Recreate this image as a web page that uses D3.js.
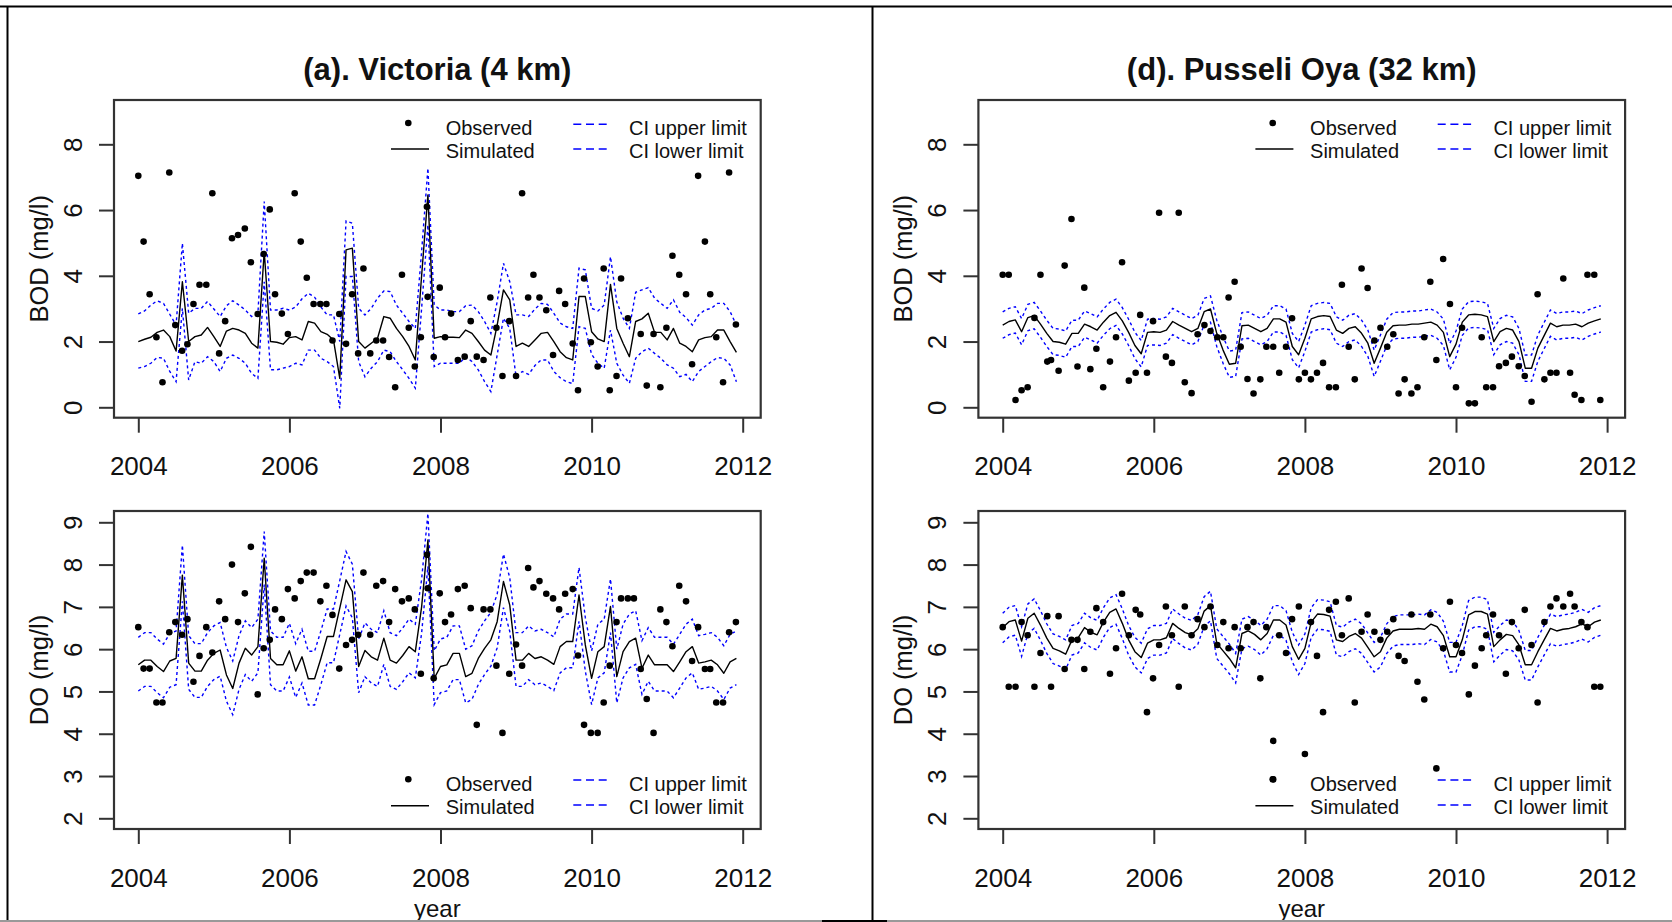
<!DOCTYPE html>
<html><head><meta charset="utf-8">
<script src="https://cdn.jsdelivr.net/npm/d3@7"></script>
<style>
html,body{margin:0;padding:0;background:#fff;}
svg{display:block;font-family:"Liberation Sans",Arial,sans-serif;}
</style></head><body>
<svg id="chart" width="1672" height="922"></svg>
<script>
// ---------- tick labels ----------
const xTickLabels = [2004, 2006, 2008, 2010, 2012];
const bodTicks = [0, 2, 4, 6, 8];
const doTicks = [2, 3, 4, 5, 6, 7, 8, 9];
const simStartYear = 2004; // simulated series are monthly from Jan 2004 (96 months)

// ---------- Victoria (4 km): observation dates ----------
const vicDates = [2004.00,2004.07,2004.15,2004.24,2004.32,2004.41,2004.49,2004.58,2004.65,2004.73,2004.81,2004.90,2004.98,
2005.07,2005.15,2005.24,2005.32,2005.41,2005.49,2005.58,2005.66,2005.74,2005.81,2005.90,2005.98,
2006.07,2006.15,2006.23,2006.32,2006.41,2006.49,2006.57,2006.66,2006.75,2006.83,2006.91,2006.98,
2007.07,2007.15,2007.24,2007.32,2007.40,2007.49,2007.58,2007.66,2007.74,2007.82,2007.83,2007.91,2007.99,
2008.06,2008.14,2008.23,2008.32,2008.40,2008.48,2008.57,2008.66,2008.74,2008.82,2008.91,
2009.00,2009.08,2009.16,2009.23,2009.31,2009.40,2009.49,2009.57,2009.65,2009.75,2009.82,2009.90,2009.99,
2010.08,2010.16,2010.24,2010.33,2010.39,2010.48,2010.56,2010.65,2010.73,2010.82,2010.91,2010.99,
2011.07,2011.16,2011.25,2011.33,2011.41,2011.50,2011.57,2011.65,2011.74,2011.82,2011.91];

const vicBODObs = [7.04,5.04,3.44,2.13,0.76,7.14,2.50,1.72,1.92,3.14,3.73,3.73,6.51,
1.64,2.62,5.14,5.24,5.44,4.41,2.84,4.66,6.02,3.44,2.85,2.23,
6.51,5.04,3.94,3.14,3.14,3.14,2.03,2.84,1.93,3.44,1.64,4.22,
1.64,2.03,2.03,1.53,0.61,4.03,2.42,1.24,2.13,6.10,3.36,1.53,3.64,
2.13,2.85,1.44,1.54,2.62,1.54,1.44,3.34,2.42,0.95,2.62,
0.95,6.51,3.34,4.03,3.34,2.95,1.59,3.54,3.14,1.94,0.52,3.92,1.98,
1.24,4.22,0.52,0.95,3.92,2.71,null,2.23,0.66,2.23,0.61,2.42,
4.61,4.03,3.44,1.31,7.04,5.04,3.44,2.13,0.76,7.14,2.52];

const vicDOObs = [6.52,5.54,5.54,4.74,4.74,6.40,6.64,6.34,6.71,5.23,5.84,6.52,5.92,
7.13,6.71,8.00,6.64,7.32,8.42,4.93,6.02,6.22,6.94,6.71,7.42,
7.20,7.61,7.81,7.81,7.13,7.50,6.81,5.54,6.10,6.22,6.34,7.81,
6.34,7.50,7.61,6.64,7.42,7.13,7.20,6.94,5.42,8.23,7.44,5.31,7.32,
6.64,6.82,7.42,7.50,6.97,4.21,6.94,6.94,5.61,4.02,5.42,
6.11,5.61,7.92,7.46,7.61,7.31,7.20,6.94,7.31,7.42,5.85,4.21,4.02,
4.02,4.74,5.61,6.64,7.20,7.20,7.20,5.53,4.82,4.02,6.94,6.64,
6.07,7.50,7.13,5.72,6.52,5.53,5.53,4.74,4.74,6.40,6.64];

// ---------- Victoria: simulated + CI (monthly) ----------
const vicBODSim = [2.00,2.07,2.13,2.28,2.35,2.15,1.71,3.82,2.00,2.15,2.20,2.43,2.15,1.85,2.32,2.40,2.35,2.25,1.95,1.80,
4.74,2.00,1.98,1.92,2.12,2.15,2.05,2.61,2.56,2.30,2.22,2.05,0.88,4.79,4.84,2.00,1.80,1.95,2.10,2.76,
2.71,2.40,2.15,1.85,1.44,4.00,6.46,2.10,
2.15,2.13,2.13,2.12,2.35,2.25,2.00,1.74,1.59,2.50,3.57,3.27,1.85,1.95,1.85,2.05,2.25,2.28,2.00,1.69,
1.51,1.44,3.37,3.37,2.30,2.08,2.00,3.74,2.40,1.95,1.54,2.61,2.69,2.86,2.28,2.28,2.05,2.40,1.95,1.85,
1.69,2.05,2.12,2.15,2.35,2.35,2.00,1.67];
const vicBODUpper = [2.84,2.93,3.11,3.24,3.16,2.83,2.50,4.99,2.86,3.01,3.01,3.22,2.99,2.76,3.09,3.24,3.11,2.96,2.76,2.86,
6.26,2.96,2.96,3.01,2.96,3.05,3.30,3.47,3.35,3.05,2.81,2.81,2.00,5.67,5.60,3.01,2.81,3.01,3.32,3.54,
3.52,3.11,2.86,2.61,2.40,4.74,7.27,3.11,
2.96,2.96,2.91,2.91,3.09,3.11,2.91,2.61,2.25,3.21,4.38,3.82,2.81,2.81,2.76,2.99,3.16,3.13,2.86,2.56,
2.45,2.40,4.23,4.18,3.01,2.93,3.11,4.58,3.21,2.71,2.40,3.50,3.57,3.64,3.32,3.16,3.01,3.27,2.89,2.73,
2.50,2.81,2.96,3.01,3.16,3.16,2.91,2.50];
const vicBODLower = [1.19,1.24,1.34,1.52,1.49,1.09,0.78,3.01,0.83,1.39,1.34,1.54,1.39,1.09,1.49,1.59,1.49,1.34,1.03,0.88,
3.82,1.14,1.14,1.19,1.24,1.34,1.29,1.74,1.74,1.49,1.39,1.24,-0.03,3.98,3.98,1.39,0.93,1.19,1.39,1.74,
1.69,1.39,1.14,0.88,0.58,3.01,5.55,1.24,
1.34,1.34,1.34,1.34,1.54,1.39,1.14,0.78,0.48,1.59,2.71,2.40,0.93,1.09,1.00,1.27,1.44,1.44,1.09,0.90,
0.78,0.72,2.45,2.40,1.61,1.34,1.19,2.35,1.34,0.98,0.73,1.49,1.69,1.80,1.64,1.49,1.29,1.19,0.93,1.00,
0.78,1.09,1.24,1.39,1.51,1.49,1.29,0.78];

const vicDOSim = [5.63,5.74,5.74,5.59,5.47,5.72,5.78,7.75,5.67,5.48,5.48,5.74,5.90,5.98,5.39,5.07,5.67,6.02,5.86,6.06,
8.15,5.78,5.63,5.63,5.96,5.48,5.82,5.30,5.30,5.78,6.30,6.30,6.97,7.64,7.36,5.59,5.97,5.82,5.74,6.26,
5.74,5.67,5.85,6.06,5.94,7.00,8.58,5.31,
5.59,5.63,5.90,5.90,5.35,5.43,5.78,6.02,6.22,6.65,7.60,7.04,5.74,5.74,5.90,5.78,5.82,5.74,5.64,6.06,
6.18,6.18,7.28,6.10,5.31,5.94,6.06,7.01,5.35,5.94,6.18,6.26,5.55,5.86,5.63,5.63,5.63,5.47,5.70,5.94,
6.06,5.67,5.70,5.74,5.63,5.43,5.70,5.78];
const vicDOUpper = [6.28,6.39,6.39,6.24,6.12,6.37,6.43,8.46,6.32,6.13,6.13,6.39,6.55,6.63,6.04,5.72,6.32,6.67,6.51,6.71,
8.78,6.43,6.28,6.28,6.61,6.13,6.47,5.95,5.95,6.43,6.95,6.95,7.62,8.31,8.01,6.24,6.62,6.47,6.39,6.91,
6.39,6.32,6.50,6.71,6.59,7.65,9.21,5.96,
6.24,6.28,6.55,6.55,6.00,6.08,6.43,6.67,6.87,7.30,8.25,7.69,6.39,6.39,6.55,6.43,6.47,6.39,6.29,6.71,
6.83,6.83,7.93,6.75,5.96,6.59,6.71,7.66,6.00,6.59,6.83,6.91,6.20,6.51,6.28,6.28,6.28,6.12,6.35,6.59,
6.71,6.32,6.35,6.39,6.28,6.08,6.35,6.43];
const vicDOLower = [5.01,5.12,5.12,4.97,4.85,5.10,5.16,7.13,5.05,4.86,4.86,5.12,5.28,5.36,4.77,4.45,5.05,5.40,5.24,5.44,
7.53,5.16,5.01,5.01,5.34,4.86,5.20,4.68,4.68,5.16,5.68,5.68,6.35,7.02,6.74,4.97,5.35,5.20,5.12,5.64,
5.12,5.05,5.23,5.44,5.32,6.38,7.96,4.69,
4.97,5.01,5.28,5.28,4.73,4.81,5.16,5.40,5.60,6.03,6.98,6.42,5.12,5.12,5.28,5.16,5.20,5.12,5.02,5.44,
5.56,5.56,6.66,5.48,4.69,5.32,5.44,6.39,4.73,5.32,5.56,5.64,4.93,5.24,5.01,5.01,5.01,4.85,5.08,5.32,
5.44,5.05,5.08,5.12,5.01,4.81,5.08,5.16];

// ---------- Pusseli Oya (32 km): observation dates ----------
const pusDates = [2004.00,2004.08,2004.17,2004.25,2004.33,2004.42,2004.50,2004.59,2004.64,2004.74,2004.82,2004.91,2004.99,
2005.08,2005.16,2005.24,2005.33,2005.42,2005.50,2005.58,2005.67,2005.76,2005.82,2005.91,2005.99,
2006.07,2006.16,2006.24,2006.33,2006.41,2006.50,2006.58,2006.67,2006.75,2006.84,2006.92,2006.99,
2007.07,2007.15,2007.24,2007.32,2007.41,2007.49,2007.58,2007.58,2007.66,2007.75,2007.83,2007.92,
2008.00,2008.08,2008.16,2008.24,2008.32,2008.41,2008.49,2008.58,2008.66,2008.75,2008.83,2008.92,
2009.00,2009.09,2009.17,2009.24,2009.32,2009.41,2009.49,2009.58,2009.66,2009.74,2009.83,2009.92,
2010.00,2010.08,2010.17,2010.25,2010.34,2010.40,2010.49,2010.57,2010.66,2010.74,2010.83,2010.91,
2011.00,2011.08,2011.17,2011.25,2011.33,2011.42,2011.51,2011.57,2011.66,2011.74,2011.83,2011.91];

const pusBODObs = [4.03,4.03,0.22,0.52,0.61,2.72,4.03,1.39,1.44,1.11,4.31,5.73,1.24,
3.64,1.16,1.78,0.61,1.39,2.13,4.41,0.81,1.05,2.81,1.05,2.62,
5.92,1.54,1.35,5.92,0.76,0.43,2.22,2.50,2.32,2.13,2.13,3.34,
3.82,1.84,0.86,0.42,0.85,1.84,1.84,null,1.05,1.84,2.71,0.85,
1.05,0.85,1.05,1.35,0.61,0.61,3.73,1.84,0.85,4.22,3.63,2.03,
2.42,1.84,2.22,0.42,0.85,0.42,0.61,2.13,3.82,1.44,4.51,3.14,
0.61,2.42,0.12,0.12,2.13,0.61,0.61,1.25,1.35,1.54,1.25,0.95,
0.17,3.44,0.85,1.05,1.05,3.92,1.05,0.38,0.22,4.03,4.03,0.22];

const pusDOObs = [6.52,5.11,5.11,6.64,6.33,5.11,5.91,6.78,5.11,6.78,5.53,6.22,6.22,
5.53,6.41,6.97,6.64,5.42,6.02,7.31,6.33,6.93,6.82,4.51,5.31,
6.10,7.01,6.33,5.11,7.01,6.33,6.71,6.52,7.01,6.10,6.64,6.02,
6.52,6.02,6.52,6.64,5.31,6.52,3.83,2.92,6.33,5.91,6.71,7.01,
3.52,6.64,5.84,4.51,6.93,7.12,6.33,7.20,4.74,6.41,6.82,6.41,
6.22,6.41,6.71,5.84,5.72,6.82,5.23,4.81,6.82,3.18,6.02,7.12,
6.10,5.91,4.93,5.61,6.02,6.33,6.82,6.33,5.42,6.64,6.02,6.93,
6.10,4.74,6.64,7.01,7.20,7.01,7.31,7.01,6.64,6.52,5.11,5.11];

// ---------- Pusseli Oya: simulated + CI (monthly) ----------
const pusBODSim = [2.50,2.61,2.66,2.30,2.73,2.79,2.53,2.25,2.00,1.98,1.92,2.25,2.25,2.53,2.45,2.35,2.59,2.79,2.89,2.63,
2.28,1.88,1.63,2.28,2.30,2.28,2.35,2.61,2.50,2.40,2.30,2.40,2.91,2.99,2.25,1.74,1.31,1.34,2.48,2.50,
2.40,2.30,2.40,2.69,2.69,2.59,1.85,1.60,
2.10,2.69,2.76,2.79,2.76,2.35,2.25,2.40,2.45,2.25,1.95,1.34,1.80,2.28,2.48,2.50,2.50,2.53,2.53,2.56,
2.59,2.50,2.28,1.54,1.92,2.59,2.81,2.83,2.81,2.76,2.00,2.30,2.40,2.35,2.00,1.19,1.19,1.80,2.18,2.56,
2.45,2.50,2.50,2.53,2.45,2.56,2.63,2.69];
const pusBODUpper = [2.90,3.01,3.06,2.70,3.13,3.19,2.93,2.65,2.40,2.38,2.32,2.65,2.65,2.93,2.85,2.75,2.99,3.19,3.29,3.03,
2.68,2.28,2.03,2.68,2.70,2.68,2.75,3.01,2.90,2.80,2.70,2.80,3.31,3.39,2.65,2.14,1.71,1.74,2.88,2.90,
2.80,2.70,2.80,3.09,3.09,2.99,2.25,2.00,
2.50,3.09,3.16,3.19,3.16,2.75,2.65,2.80,2.85,2.65,2.35,1.74,2.20,2.68,2.88,2.90,2.90,2.93,2.93,2.96,
2.99,2.90,2.68,1.94,2.32,2.99,3.21,3.23,3.21,3.16,2.40,2.70,2.80,2.75,2.40,1.59,1.59,2.20,2.58,2.96,
2.85,2.90,2.90,2.93,2.85,2.96,3.03,3.09];
const pusBODLower = [2.10,2.21,2.26,1.90,2.33,2.39,2.13,1.85,1.60,1.58,1.52,1.85,1.85,2.13,2.05,1.95,2.19,2.39,2.49,2.23,
1.88,1.48,1.23,1.88,1.90,1.88,1.95,2.21,2.10,2.00,1.90,2.00,2.51,2.59,1.85,1.34,0.91,0.94,2.08,2.10,
2.00,1.90,2.00,2.29,2.29,2.19,1.45,1.20,
1.70,2.29,2.36,2.39,2.36,1.95,1.85,2.00,2.05,1.85,1.55,0.94,1.40,1.88,2.08,2.10,2.10,2.13,2.13,2.16,
2.19,2.10,1.88,1.14,1.52,2.19,2.41,2.43,2.41,2.36,1.60,1.90,2.00,1.95,1.60,0.79,0.79,1.40,1.78,2.16,
2.05,2.10,2.10,2.13,2.05,2.16,2.23,2.29];

const pusDOSim = [6.51,6.65,6.69,6.19,6.73,6.85,6.57,6.26,6.02,5.96,5.88,6.22,6.27,6.51,6.40,6.34,6.64,6.87,6.95,6.61,
6.22,5.94,5.80,6.14,6.22,6.22,6.27,6.61,6.49,6.39,6.34,6.48,6.90,7.03,6.14,5.96,5.78,5.56,6.37,6.43,
6.35,6.22,6.37,6.69,6.69,6.57,6.06,5.76,
6.02,6.64,6.83,6.82,6.78,6.22,6.18,6.30,6.37,6.26,6.04,5.82,5.94,6.26,6.43,6.47,6.47,6.47,6.49,6.47,
6.59,6.53,6.32,5.82,5.82,6.22,6.81,6.89,6.89,6.83,6.06,6.22,6.35,6.32,6.10,5.63,5.63,5.94,6.22,6.49,
6.43,6.47,6.49,6.53,6.60,6.53,6.64,6.69];
const pusDOUpper = [6.85,6.99,7.03,6.53,7.07,7.19,6.91,6.60,6.36,6.30,6.22,6.56,6.61,6.85,6.74,6.68,6.98,7.21,7.29,6.95,
6.56,6.28,6.14,6.48,6.56,6.56,6.61,6.95,6.83,6.73,6.68,6.82,7.24,7.37,6.48,6.30,6.12,5.90,6.71,6.77,
6.69,6.56,6.71,7.03,7.03,6.91,6.40,6.10,
6.36,6.98,7.17,7.16,7.12,6.56,6.52,6.64,6.71,6.60,6.38,6.16,6.28,6.60,6.77,6.81,6.81,6.81,6.83,6.81,
6.93,6.87,6.66,6.16,6.16,6.56,7.15,7.23,7.23,7.17,6.40,6.56,6.69,6.66,6.44,5.97,5.97,6.28,6.56,6.83,
6.77,6.81,6.83,6.87,6.94,6.87,6.98,7.03];
const pusDOLower = [6.15,6.29,6.33,5.83,6.37,6.49,6.21,5.90,5.66,5.60,5.52,5.86,5.91,6.15,6.04,5.98,6.28,6.51,6.59,6.25,
5.86,5.58,5.44,5.78,5.86,5.86,5.91,6.25,6.13,6.03,5.98,6.12,6.54,6.67,5.78,5.60,5.42,5.20,6.01,6.07,
5.99,5.86,6.01,6.33,6.33,6.21,5.70,5.40,
5.66,6.28,6.47,6.46,6.42,5.86,5.82,5.94,6.01,5.90,5.68,5.46,5.58,5.90,6.07,6.11,6.11,6.11,6.13,6.11,
6.23,6.17,5.96,5.46,5.46,5.86,6.45,6.53,6.53,6.47,5.70,5.86,5.99,5.96,5.74,5.27,5.27,5.58,5.86,6.13,
6.07,6.11,6.13,6.17,6.24,6.17,6.28,6.33];

// ---------- layout ----------
const W = 1672, H = 922;
const svg = d3.select("#chart");
svg.append("rect").attr("width", W).attr("height", H).attr("fill", "#fff");

const colDX = [0, 864.4];
const boxL = 114, boxR = 760.7;
const rowCfg = [
  {top:100, bottom:417.7, dom:[0,8], rng:[407.3,144.3], ticks:bodTicks, ylab:"BOD (mg/l)",
   leg:{dot:123, line:149, t1:135, t2:158, d1:124.3, d2:149}},
  {top:511, bottom:829, dom:[2,9], rng:[818.3,522.3], ticks:doTicks, ylab:"DO (mg/l)",
   leg:{dot:779.3, line:805.7, t1:790.7, t2:814, d1:780, d2:805}}
];
const titles = ["(a). Victoria (4 km)", "(d). Pusseli Oya (32 km)"];
const panels = [
  {col:0,row:0,dates:vicDates,obs:vicBODObs,sim:vicBODSim,up:vicBODUpper,lo:vicBODLower},
  {col:0,row:1,dates:vicDates,obs:vicDOObs,sim:vicDOSim,up:vicDOUpper,lo:vicDOLower},
  {col:1,row:0,dates:pusDates,obs:pusBODObs,sim:pusBODSim,up:pusBODUpper,lo:pusBODLower},
  {col:1,row:1,dates:pusDates,obs:pusDOObs,sim:pusDOSim,up:pusDOUpper,lo:pusDOLower}
];

const TXT = "#111", BOX = "#333";

panels.forEach((p, i) => {
  const rc = rowCfg[p.row];
  const dx = colDX[p.col];
  const g = svg.append("g").attr("transform", `translate(${dx},0)`);
  const x = d3.scaleLinear().domain([2004, 2012]).range([138.3, 742.7]);
  const y = d3.scaleLinear().domain(rc.dom).range(rc.rng);
  const t = k => simStartYear + k / 12;

  const cid = "clip" + i;
  g.append("clipPath").attr("id", cid).append("rect")
    .attr("x", boxL).attr("y", rc.top).attr("width", boxR - boxL).attr("height", rc.bottom - rc.top);
  const plot = g.append("g").attr("clip-path", `url(#${cid})`);
  const line = d3.line().x((d, k) => x(t(k))).y(d => y(d));

  [p.up, p.lo].forEach(arr => {
    plot.append("path").attr("d", line(arr)).attr("fill", "none")
      .attr("stroke", "#0000ff").attr("stroke-width", 1.4).attr("stroke-dasharray", "3,3");
  });
  plot.append("path").attr("d", line(p.sim)).attr("fill", "none")
    .attr("stroke", "#000").attr("stroke-width", 1.4).attr("stroke-linejoin", "round");

  const pts = p.dates.map((d, k) => [d, p.obs[k]]).filter(d => d[1] != null);
  plot.selectAll("circle.obs").data(pts).join("circle").attr("class", "obs")
    .attr("cx", d => x(d[0])).attr("cy", d => y(d[1])).attr("r", 3.3).attr("fill", "#000");

  // box
  g.append("rect").attr("x", boxL).attr("y", rc.top).attr("width", boxR - boxL)
    .attr("height", rc.bottom - rc.top).attr("fill", "none").attr("stroke", BOX).attr("stroke-width", 2.2);

  // x axis
  const gx = g.append("g").attr("transform", `translate(0,${rc.bottom})`)
    .call(d3.axisBottom(x).tickValues(xTickLabels).tickSize(15).tickFormat(d3.format("d")));
  gx.select(".domain").remove();
  gx.selectAll(".tick line").attr("stroke", BOX).attr("stroke-width", 2);
  gx.selectAll(".tick text").attr("y", 57.5).attr("dy", null)
    .attr("font-size", 26).attr("font-family", '"Liberation Sans",Arial,sans-serif').attr("fill", TXT);

  // y axis
  const gy = g.append("g").attr("transform", `translate(${boxL},0)`)
    .call(d3.axisLeft(y).tickValues(rc.ticks).tickSize(15).tickFormat(d3.format("d")));
  gy.select(".domain").remove();
  gy.selectAll(".tick line").attr("stroke", BOX).attr("stroke-width", 2);
  gy.selectAll(".tick text").attr("x", 0).attr("y", 0).attr("dy", null)
    .attr("text-anchor", "middle").attr("transform", "translate(-32,0) rotate(-90)")
    .attr("font-size", 26).attr("font-family", '"Liberation Sans",Arial,sans-serif').attr("fill", TXT);

  // y label
  const yc = (rc.top + rc.bottom) / 2;
  g.append("text").attr("transform", `translate(47.5,${yc}) rotate(-90)`)
    .attr("text-anchor", "middle").attr("font-size", 25.5).attr("fill", TXT).text(rc.ylab);

  // title / x label
  if (p.row === 0) {
    g.append("text").attr("x", (boxL + boxR) / 2).attr("y", 79.5).attr("text-anchor", "middle")
      .attr("font-size", 31).attr("font-weight", "bold").attr("fill", TXT).text(titles[p.col]);
  } else {
    g.append("text").attr("x", (boxL + boxR) / 2).attr("y", 916.5).attr("text-anchor", "middle")
      .attr("font-size", 24).attr("fill", TXT).text("year");
  }

  // legend
  const L = rc.leg;
  const lg = g.append("g");
  lg.append("circle").attr("cx", 408.3).attr("cy", L.dot).attr("r", 3.3).attr("fill", "#000");
  lg.append("line").attr("x1", 391).attr("x2", 429).attr("y1", L.line).attr("y2", L.line)
    .attr("stroke", "#000").attr("stroke-width", 1.4);
  [L.d1, L.d2].forEach(yy => lg.append("line").attr("x1", 573.3).attr("x2", 606.7)
    .attr("y1", yy).attr("y2", yy).attr("stroke", "#0000ff").attr("stroke-width", 1.4)
    .attr("stroke-dasharray", "8,4.7"));
  const legTxt = [["Observed", 445.7, L.t1], ["Simulated", 445.7, L.t2],
                  ["CI upper limit", 629, L.t1], ["CI lower limit", 629, L.t2]];
  legTxt.forEach(([s, xx, yy]) => lg.append("text").attr("x", xx).attr("y", yy)
    .attr("font-size", 20).attr("fill", TXT).text(s));
});

// outer frame lines
svg.append("line").attr("x1", 0).attr("x2", W).attr("y1", 6.5).attr("y2", 6.5).attr("stroke", "#000").attr("stroke-width", 2);
svg.append("line").attr("x1", 7.5).attr("x2", 7.5).attr("y1", 6).attr("y2", H).attr("stroke", "#000").attr("stroke-width", 2);
svg.append("line").attr("x1", 872.5).attr("x2", 872.5).attr("y1", 6).attr("y2", H).attr("stroke", "#000").attr("stroke-width", 2);
svg.append("line").attr("x1", 0).attr("x2", W).attr("y1", 921).attr("y2", 921).attr("stroke", "#999").attr("stroke-width", 2);
svg.append("line").attr("x1", 822).attr("x2", 887).attr("y1", 921).attr("y2", 921).attr("stroke", "#000").attr("stroke-width", 2);
</script>
</body></html>
